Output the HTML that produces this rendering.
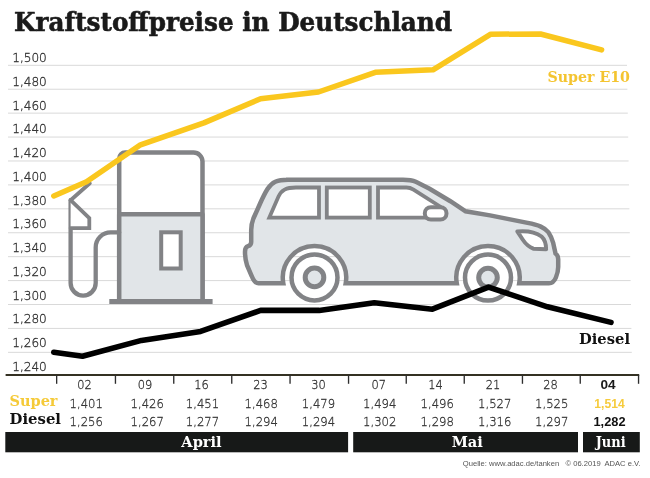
<!DOCTYPE html>
<html lang="de"><head><meta charset="utf-8"><title>Kraftstoffpreise in Deutschland</title>
<style>
html,body{margin:0;padding:0;background:#fff}
svg{display:block}
.slab{font-family:"DejaVu Serif","Liberation Serif",serif;font-weight:bold}
.sans{font-family:"Liberation Sans",sans-serif}
.grid line{stroke:#d9d9d9;stroke-width:1}
.lt{font-family:"DejaVu Sans","Liberation Sans",sans-serif;font-weight:200;stroke:#333;stroke-width:.22}
.ylab text{font-size:12.1px;fill:#2c2c2c;stroke-width:.32}
.tbl text{font-size:12.3px;fill:#333;text-anchor:middle;stroke-width:.3}
.tbl text.d{font-size:11.4px}
.tbl text.b{font-family:"Liberation Sans",sans-serif;font-weight:bold;fill:#1a1a1a;stroke:none;font-size:12.8px}
.tbl text.d9{font-size:13.6px}
.tbl text.y{fill:#f6cb3c}
.tbl text.k{fill:#111}
.g{stroke:#828386;stroke-width:4.5;stroke-linejoin:round;stroke-linecap:round}
</style></head><body>
<svg width="650" height="478" viewBox="0 0 650 478">
<rect width="650" height="478" fill="#fff"/>
<text class="slab" x="14.1" y="30.9" font-size="25.8" fill="#1a1a1a" stroke="#1a1a1a" stroke-width="0.6" stroke-linejoin="round" textLength="438" lengthAdjust="spacingAndGlyphs">Kraftstoffpreise in Deutschland</text>
<g class="grid"><line x1="8" x2="627.0" y1="65.30" y2="65.30"/><line x1="8" x2="627.4" y1="89.22" y2="89.22"/><line x1="8" x2="627.8" y1="113.14" y2="113.14"/><line x1="8" x2="628.2" y1="137.06" y2="137.06"/><line x1="8" x2="628.6" y1="160.98" y2="160.98"/><line x1="8" x2="629.0" y1="184.90" y2="184.90"/><line x1="8" x2="629.4" y1="208.82" y2="208.82"/><line x1="8" x2="629.8" y1="232.74" y2="232.74"/><line x1="8" x2="630.2" y1="256.66" y2="256.66"/><line x1="8" x2="630.6" y1="280.58" y2="280.58"/><line x1="8" x2="631.0" y1="304.50" y2="304.50"/><line x1="8" x2="631.4" y1="328.42" y2="328.42"/><line x1="8" x2="631.8" y1="352.34" y2="352.34"/></g>
<g class="ylab lt"><text x="12.2" y="62.00">1,500</text><text x="12.2" y="85.75">1,480</text><text x="12.2" y="109.50">1,460</text><text x="12.2" y="133.25">1,440</text><text x="12.2" y="157.00">1,420</text><text x="12.2" y="180.75">1,400</text><text x="12.2" y="204.50">1,380</text><text x="12.2" y="228.25">1,360</text><text x="12.2" y="252.00">1,340</text><text x="12.2" y="275.75">1,320</text><text x="12.2" y="299.50">1,300</text><text x="12.2" y="323.25">1,280</text><text x="12.2" y="347.00">1,260</text><text x="12.2" y="370.75">1,240</text></g>

<!-- pump -->
<g class="g" fill="none">
<path d="M119.2 301.3V158.6a6 6 0 0 1 6-6H193.500a9 9 0 0 1 9 9V301.3Z" fill="#fff"/>
<rect x="119.2" y="214.3" width="83.300" height="87" fill="#e1e5e8"/>
<rect x="161.200" y="232.300" width="19.500" height="36.200" fill="#fff" stroke-width="4" stroke-linejoin="miter"/>
<line x1="109.300" y1="301.500" x2="212.600" y2="301.500" stroke-width="5.200" stroke-linecap="butt"/>
<path d="M119.2 232.4h-8.500a15 15 0 0 0 -15 15V283a12.550 12.550 0 0 1 -25.100 0V200.2" stroke-width="4.300"/>
<path d="M70.6 200.2L89.3 218V228.100H70.600" fill="#fff" stroke-width="3.800" stroke-linejoin="miter"/>
<line x1="70.600" y1="200.200" x2="89.800" y2="183.300" stroke-width="3.800"/>
</g>

<!-- car -->
<g class="g" fill="#e1e5e8" stroke-width="4.4">
<path stroke-linejoin="miter" d="M286 179.7H403C409 179.7 412 180 415.8 181.8L429.600 188.700L450.400 201.200L465.600 211.300L490 215.400L508.800 219.100L527.600 222.900Q536 224.500 540.800 226.600Q546 229 548.400 232.300Q551 236 553.100 242.600L555.500 253.500Q558.200 255.500 558.200 259V267.100Q558.200 272 555.900 277.500Q553.500 283.300 549 283.300H519.200A31.700 31.700 0 1 0 456.800 283.300H345.700A31.700 31.700 0 1 0 283.300 283.300H258.500Q254.500 283.300 251.700 276L247 265.100Q245 259 245 251.800Q245 247.200 248 246.200Q251.200 245.300 251.200 242V230Q251.200 224 253.400 218.500L260.100 203.500C263 197 265 193 267.500 189C272 182 277 179.700 288 179.700Z"/>
<g stroke-width="3.8" stroke-linejoin="miter" fill="#fff">
<path d="M269.300 217.600H319V187.500H296C286 187.500 281.500 190 278.500 196.500Z"/>
<rect x="326.800" y="187.500" width="43" height="30.100"/>
<path d="M378 217.600V187.500H406.500Q410 187.500 413.500 189.600L440 206.500V217.600Z"/>
</g>
<rect x="424.800" y="207.200" width="21.700" height="12.300" rx="6.100" fill="#fff" stroke-width="4"/>
<path d="M517.300 231.400Q533 230 541.500 236.500Q546 240.500 546.100 249.200L533.300 248.700Q527 246 523 240Z" fill="#fff" stroke-width="4"/>
</g>
<g class="g" fill="#fff" stroke-width="4.400">
<circle cx="314.500" cy="277.400" r="23"/>
<circle cx="488" cy="277.600" r="23"/>
<circle cx="314.500" cy="277.400" r="9.300" fill="#e1e5e8" stroke-width="5"/>
<circle cx="488" cy="277.600" r="9.300" fill="#e1e5e8" stroke-width="5"/>
</g>

<polyline points="53.8,196 86.5,181.8 140.5,144.8 203.9,122.9 260.6,98.8 318.5,92 375.3,72.3 433,69.8 490.8,34.2 540.5,34 601.6,49.9" fill="none" stroke="#fac71e" stroke-width="5.5" stroke-linecap="round" stroke-linejoin="round"/>
<polyline points="53.8,352.2 82.5,356.3 141.5,340.4 200.6,331.4 260.6,310.4 319.2,310.4 374.3,302.8 432.4,309.2 488.5,287.1 547.5,306.8 611,322.4" fill="none" stroke="#000" stroke-width="5.6" stroke-linecap="round" stroke-linejoin="round"/>
<text class="slab" x="547.5" y="82.3" font-size="13.9" fill="#f4c430" textLength="82.500" lengthAdjust="spacingAndGlyphs">Super E10</text>
<text class="slab" x="579" y="344.4" font-size="14.6" fill="#111" textLength="51" lengthAdjust="spacingAndGlyphs">Diesel</text>

<!-- axis + table -->
<rect x="5.600" y="374.100" width="633.600" height="1.800" fill="#1f1b0c"/>
<g stroke="#2e2e2e" stroke-width="1.350"><line x1="56.65" x2="56.65" y1="375" y2="383.800"/><line x1="115.45" x2="115.45" y1="375" y2="383.800"/><line x1="173.75" x2="173.75" y1="375" y2="383.800"/><line x1="231.75" x2="231.75" y1="375" y2="383.800"/><line x1="290.05" x2="290.05" y1="375" y2="383.800"/><line x1="348.55" x2="348.55" y1="375" y2="383.800"/><line x1="406.25" x2="406.25" y1="375" y2="383.800"/><line x1="464.25" x2="464.25" y1="375" y2="383.800"/><line x1="522.45" x2="522.45" y1="375" y2="383.800"/><line x1="580.25" x2="580.25" y1="375" y2="383.800"/><line x1="638.55" x2="638.55" y1="375" y2="383.800"/></g>
<g class="tbl lt"><text x="84.4" y="389.1" class="d">02</text><text x="144.9" y="389.1" class="d">09</text><text x="201.4" y="389.1" class="d">16</text><text x="260.4" y="389.1" class="d">23</text><text x="318.4" y="389.1" class="d">30</text><text x="378.7" y="389.1" class="d">07</text><text x="435.4" y="389.1" class="d">14</text><text x="492.9" y="389.1" class="d">21</text><text x="550.4" y="389.1" class="d">28</text><text x="608" y="389.0" class="b d9">04</text><text x="86.2" y="408" textLength="33.300" lengthAdjust="spacingAndGlyphs">1,401</text><text x="147.2" y="408" textLength="33.300" lengthAdjust="spacingAndGlyphs">1,426</text><text x="202.5" y="408" textLength="33.300" lengthAdjust="spacingAndGlyphs">1,451</text><text x="261.2" y="408" textLength="33.300" lengthAdjust="spacingAndGlyphs">1,468</text><text x="318.5" y="408" textLength="33.300" lengthAdjust="spacingAndGlyphs">1,479</text><text x="379.7" y="408" textLength="33.300" lengthAdjust="spacingAndGlyphs">1,494</text><text x="437.2" y="408" textLength="33.300" lengthAdjust="spacingAndGlyphs">1,496</text><text x="494.7" y="408" textLength="33.300" lengthAdjust="spacingAndGlyphs">1,527</text><text x="551.7" y="408" textLength="33.300" lengthAdjust="spacingAndGlyphs">1,525</text><text x="609.5" y="408" class="b y" textLength="30.300" lengthAdjust="spacingAndGlyphs">1,514</text><text x="86.2" y="425.700" textLength="33.300" lengthAdjust="spacingAndGlyphs">1,256</text><text x="147.2" y="425.700" textLength="33.300" lengthAdjust="spacingAndGlyphs">1,267</text><text x="202.5" y="425.700" textLength="33.300" lengthAdjust="spacingAndGlyphs">1,277</text><text x="261.2" y="425.700" textLength="33.300" lengthAdjust="spacingAndGlyphs">1,294</text><text x="318.5" y="425.700" textLength="33.300" lengthAdjust="spacingAndGlyphs">1,294</text><text x="379.7" y="425.700" textLength="33.300" lengthAdjust="spacingAndGlyphs">1,302</text><text x="437.2" y="425.700" textLength="33.300" lengthAdjust="spacingAndGlyphs">1,298</text><text x="494.7" y="425.700" textLength="33.300" lengthAdjust="spacingAndGlyphs">1,316</text><text x="551.7" y="425.700" textLength="33.300" lengthAdjust="spacingAndGlyphs">1,297</text><text x="609.5" y="425.700" class="b k">1,282</text></g>
<text class="slab" x="9.500" y="405.7" font-size="14.8" fill="#f5ca38" textLength="48" lengthAdjust="spacingAndGlyphs">Super</text>
<text class="slab" x="9.500" y="424.3" font-size="14.8" fill="#111" textLength="51.500" lengthAdjust="spacingAndGlyphs">Diesel</text>
<rect x="5.300" y="432" width="342.800" height="20.300" fill="#171918"/>
<rect x="353.2" y="432" width="224.800" height="20.300" fill="#171918"/>
<rect x="583" y="432" width="56.800" height="20.300" fill="#171918"/>
<g class="slab" font-size="14.600" fill="#fff" text-anchor="middle">
<text x="201.500" y="447.300">April</text>
<text x="467.300" y="447.300">Mai</text>
<text x="610.700" y="447.300" textLength="30" lengthAdjust="spacingAndGlyphs">Juni</text>
</g>
<text class="sans" x="640.500" y="465.600" font-size="8" fill="#555" text-anchor="end" textLength="177.700" lengthAdjust="spacingAndGlyphs" xml:space="preserve">Quelle: www.adac.de/tanken   © 06.2019  ADAC e.V.</text>
</svg>
</body></html>
